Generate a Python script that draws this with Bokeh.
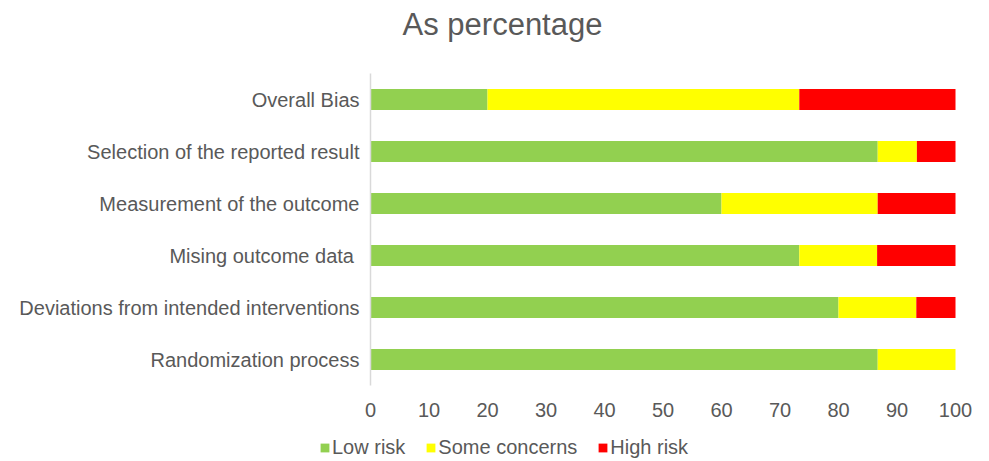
from bokeh.plotting import figure
from bokeh.models import (Range1d, FixedTicker, Legend, LegendItem, LinearAxis,
                          ColumnDataSource, Label)
from bokeh.embed import file_html
from bokeh.resources import INLINE

# Risk-of-bias domains, bottom to top
domains = [
    "Randomization process",
    "Deviations from intended interventions",
    "Mising outcome data ",
    "Measurement of the outcome",
    "Selection of the reported result",
    "Overall Bias",
]
low_risk = [86.7, 80.0, 73.3, 60.0, 86.7, 20.0]
some_concerns = [13.3, 13.3, 13.3, 26.7, 6.7, 53.3]
high_risk = [0.0, 6.7, 13.4, 13.3, 6.6, 26.7]

series = ["Low risk", "Some concerns", "High risk"]
colors = ["#92d050", "#ffff00", "#ff0000"]
x_ticks = list(range(0, 101, 10))
chart_title = "As percentage"

FONT = "Liberation Sans"
TEXT = "#595959"

# canvas geometry (pixels): plotting band sits inside a full-canvas frame
W, H = 989, 461
LEFT, RIGHT = 370, 955      # x = 0 and x = 100
TOP, BOTTOM = 73, 385       # top of first band, bottom of last band
x_scale = (RIGHT - LEFT) / 100.0
band = (BOTTOM - TOP) / len(domains)

n = len(domains)
rows = [i + 0.5 for i in range(n)]

source = ColumnDataSource(dict(row=rows, **{
    "Low risk": low_risk, "Some concerns": some_concerns, "High risk": high_risk}))

p = figure(
    width=W, height=H,
    x_range=Range1d(-LEFT / x_scale, 100 + (W - RIGHT) / x_scale),
    y_range=Range1d(-(H - BOTTOM) / band, n + TOP / band),
    x_axis_type=None, y_axis_type=None,
    output_backend="svg", toolbar_location=None,
    min_border=0, min_border_left=0, min_border_right=0,
    min_border_top=0, min_border_bottom=0,
)
p.grid.visible = False
p.outline_line_color = None

renderers = p.hbar_stack(series, y="row", height=0.4, color=colors,
                         source=source, line_color=None)

# value axis along the bottom of the bars
xaxis = LinearAxis(fixed_location=0, bounds=(0, 100),
                   ticker=FixedTicker(ticks=x_ticks))
xaxis.axis_line_color = None
xaxis.major_tick_line_color = None
xaxis.minor_tick_line_color = None
xaxis.major_label_text_font = FONT
xaxis.major_label_text_font_size = "20px"
xaxis.major_label_text_color = TEXT
xaxis.major_label_standoff = 11
p.add_layout(xaxis, "below")

# domain axis at x = 0
yaxis = LinearAxis(fixed_location=0, bounds=(0, n),
                   ticker=FixedTicker(ticks=rows),
                   major_label_overrides={r: d for r, d in zip(rows, domains)})
yaxis.axis_line_color = "#d9d9d9"
yaxis.axis_line_width = 1.5
yaxis.major_tick_line_color = None
yaxis.minor_tick_line_color = None
yaxis.major_label_text_font = FONT
yaxis.major_label_text_font_size = "20px"
yaxis.major_label_text_color = TEXT
yaxis.major_label_standoff = 5
p.add_layout(yaxis, "left")

p.add_layout(Label(x=502, y=H - 24, x_units="screen", y_units="screen",
                   text=chart_title, text_font=FONT, text_font_size="31px",
                   text_color=TEXT, text_align="center", text_baseline="middle"))

legend = Legend(
    items=[LegendItem(label=s, renderers=[r]) for s, r in zip(series, renderers)],
    orientation="horizontal",
    location=(319, 2),
    label_text_font=FONT,
    label_text_font_size="20px",
    label_text_color=TEXT,
    glyph_width=11, glyph_height=11,
    label_standoff=2, spacing=20,
    padding=0, margin=0,
    border_line_color=None,
    background_fill_alpha=0,
)
p.add_layout(legend, "center")

open("out.html", "w").write(file_html(p, INLINE))
